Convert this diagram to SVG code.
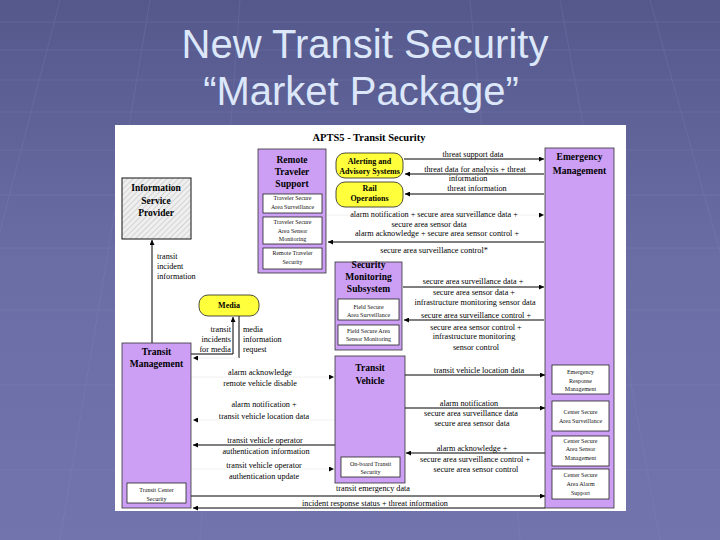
<svg xmlns="http://www.w3.org/2000/svg" width="720" height="540" viewBox="0 0 720 540">
<defs>
<linearGradient id="bg" x1="0" y1="0" x2="0" y2="1">
<stop offset="0" stop-color="#55588b"/>
<stop offset="0.5" stop-color="#6a6ea5"/>
<stop offset="1" stop-color="#7275ad"/>
</linearGradient>
<pattern id="hatch" width="4" height="4" patternUnits="userSpaceOnUse" patternTransform="rotate(45)">
<rect width="4" height="4" fill="#efefef"/>
<line x1="0" y1="0" x2="0" y2="4" stroke="#b8b8b8" stroke-width="1"/>
</pattern>
<marker id="ah" viewBox="0 0 6 6" refX="6" refY="3" markerWidth="5" markerHeight="5" markerUnits="userSpaceOnUse" orient="auto">
<path d="M0,0 L6,3 L0,6 z" fill="#000"/>
</marker>
<style>
.title{font-family:"Liberation Sans",Arial,sans-serif;font-size:40px;fill:#dce7fa;text-anchor:middle}
.node{fill:#cc9ff5;stroke:#333;stroke-width:0.8}
.sub{fill:#fff;stroke:#222;stroke-width:0.8}
.ext{fill:#ffff3c;stroke:#222;stroke-width:0.8}
.nt{font-family:"Liberation Serif","Times New Roman",serif;font-weight:bold;font-size:9.5px;fill:#000;text-anchor:middle}
.et{font-family:"Liberation Serif","Times New Roman",serif;font-weight:bold;font-size:8px;fill:#000;text-anchor:middle}
.st{font-family:"Liberation Serif","Times New Roman",serif;font-size:6px;fill:#111;text-anchor:middle}
.lb{font-family:"Liberation Serif","Times New Roman",serif;font-size:8.2px;fill:#000;text-anchor:middle}
.lbl{text-anchor:start}
.lbr{text-anchor:end}
.halo{stroke:#fff;stroke-width:3;paint-order:stroke}
.c{fill:none;stroke:#000;stroke-width:1}
.cf{fill:none;stroke:#ececec;stroke-width:0.8}
.grid{stroke:#8d91c4;stroke-width:1;opacity:0.2}
</style>
</defs>

<!-- slide background -->
<rect width="720" height="540" fill="url(#bg)"/>
<g class="grid">
<line x1="0" y1="22" x2="720" y2="22"/>
<line x1="0" y1="50" x2="720" y2="50"/>
<line x1="0" y1="80" x2="720" y2="80"/>
<line x1="0" y1="112" x2="720" y2="112"/>
<line x1="0" y1="150" x2="720" y2="150"/>
<line x1="0" y1="195" x2="720" y2="195"/>
<line x1="0" y1="248" x2="720" y2="248"/>
<line x1="0" y1="310" x2="720" y2="310"/>
<line x1="0" y1="385" x2="720" y2="385"/>
<line x1="0" y1="470" x2="720" y2="470"/>
<line x1="60" y1="0" x2="-80" y2="540"/>
<line x1="150" y1="0" x2="60" y2="540"/>
<line x1="240" y1="0" x2="200" y2="540"/>
<line x1="470" y1="0" x2="520" y2="540"/>
<line x1="560" y1="0" x2="660" y2="540"/>
<line x1="650" y1="0" x2="800" y2="540"/>
</g>

<text class="title" x="365" y="58">New Transit Security</text>
<text class="title" x="361" y="105">“Market Package”</text>

<!-- diagram image area -->
<rect x="115" y="125" width="511" height="386" fill="#fff"/>
<text x="369" y="141" font-family="Liberation Serif, Times New Roman, serif" font-weight="bold" font-size="10.5" text-anchor="middle">APTS5 - Transit Security</text>

<!-- connectors -->
<g id="connectors">
<path class="c" d="M152,343 V240" marker-end="url(#ah)"/>
<path class="c" d="M404,159 H544" marker-end="url(#ah)"/>
<path class="c" d="M544,174 H405" marker-end="url(#ah)"/>
<path class="c" d="M544,194 H405" marker-end="url(#ah)"/>
<path class="cf" d="M327,215 H544" marker-end="url(#ah)"/>
<path class="c" d="M544,242 H328" marker-end="url(#ah)"/>
<path class="c" d="M403,287 H544" marker-end="url(#ah)"/>
<path class="c" d="M544,320 H404" marker-end="url(#ah)"/>
<path class="c" d="M405,375 H545" marker-end="url(#ah)"/>
<path class="c" d="M405,408 H545" marker-end="url(#ah)"/>
<path class="c" d="M545,453 H406" marker-end="url(#ah)"/>
<path class="c" d="M191,496 H545" marker-end="url(#ah)"/>
<path class="c" d="M545,508 H193" marker-end="url(#ah)"/>
<path class="cf" d="M191,377 H334" marker-end="url(#ah)"/>
<path class="cf" d="M335,420 H193" marker-end="url(#ah)"/>
<path class="c" d="M335,445 H193" marker-end="url(#ah)"/>
<path class="cf" d="M191,469 H334" marker-end="url(#ah)"/>
<path class="c" d="M191,354 H233 V317" marker-end="url(#ah)"/>
<path class="c" d="M239,316 V358"/>
<path class="cf" d="M239,358 H193" marker-end="url(#ah)"/>

<!-- flow labels -->
<text class="lb" x="473" y="157">threat support data</text>
<text class="lb" x="475" y="171.5">threat data for analysis + threat</text>
<text class="lb" x="468" y="181">information</text>
<text class="lb" x="477" y="191">threat information</text>
<text class="lb halo" x="434" y="217">alarm notification + secure area surveillance data +</text>
<text class="lb" x="429" y="227">secure area sensor data</text>
<text class="lb" x="437" y="236">alarm acknowledge + secure area sensor control +</text>
<text class="lb" x="434" y="253">secure area surveillance control*</text>
<text class="lb" x="473" y="284">secure area surveillance data +</text>
<text class="lb" x="474" y="295">secure area sensor data +</text>
<text class="lb" x="475" y="305">infrastructure monitoring sensor data</text>
<text class="lb" x="476" y="318">secure area surveillance control +</text>
<text class="lb" x="476" y="330">secure area sensor control +</text>
<text class="lb" x="474" y="339">infrastructure monitoring</text>
<text class="lb" x="476" y="350">sensor control</text>
<text class="lb" x="479" y="373">transit vehicle location data</text>
<text class="lb" x="469" y="406">alarm notification</text>
<text class="lb" x="471" y="416">secure area surveillance data</text>
<text class="lb" x="472" y="426">secure area sensor data</text>
<text class="lb" x="472" y="451">alarm acknowledge +</text>
<text class="lb" x="475" y="462">secure area surveillance control +</text>
<text class="lb" x="476" y="472">secure area sensor control</text>
<text class="lb" x="373" y="491">transit emergency data</text>
<text class="lb" x="375" y="506">incident response status + threat information</text>
<text class="lb halo" x="260" y="375">alarm acknowledge</text>
<text class="lb halo" x="260" y="386">remote vehicle disable</text>
<text class="lb halo" x="264" y="407">alarm notification +</text>
<text class="lb halo" x="264" y="419">transit vehicle location data</text>
<text class="lb" x="265" y="443">transit vehicle operator</text>
<text class="lb" x="266" y="454">authentication information</text>
<text class="lb halo" x="264" y="468">transit vehicle operator</text>
<text class="lb halo" x="264" y="479">authentication update</text>
<text class="lb lbl" x="157" y="259">transit</text>
<text class="lb lbl" x="157" y="269">incident</text>
<text class="lb lbl" x="157" y="279">information</text>
<text class="lb lbr" x="231" y="332">transit</text>
<text class="lb lbr" x="231" y="342">incidents</text>
<text class="lb lbr" x="231" y="352">for media</text>
<text class="lb lbl" x="243" y="332">media</text>
<text class="lb lbl" x="243" y="342">information</text>
<text class="lb lbl" x="243" y="352">request</text>
</g>

<!-- nodes -->
<g id="isp">
<rect x="122" y="178" width="69" height="61" fill="url(#hatch)" stroke="#111" stroke-width="1"/>
<text class="nt" x="156" y="191">Information</text>
<text class="nt" x="156" y="204">Service</text>
<text class="nt" x="156" y="216">Provider</text>
</g>

<g id="rts">
<rect class="node" x="258" y="149" width="68" height="124"/>
<text class="nt" x="292" y="163">Remote</text>
<text class="nt" x="292" y="175">Traveler</text>
<text class="nt" x="292" y="187">Support</text>
<rect class="sub" x="263" y="194" width="59" height="19"/>
<text class="st" x="292.5" y="200">Traveler Secure</text>
<text class="st" x="292.5" y="209">Area Surveillance</text>
<rect class="sub" x="263" y="217" width="59" height="27"/>
<text class="st" x="292.5" y="224">Traveler Secure</text>
<text class="st" x="292.5" y="233">Area Sensor</text>
<text class="st" x="292.5" y="241">Monitoring</text>
<rect class="sub" x="263" y="248" width="59" height="21"/>
<text class="st" x="292.5" y="255">Remote Traveler</text>
<text class="st" x="292.5" y="264">Security</text>
</g>

<g id="alerting">
<rect class="ext" x="336" y="153" width="67" height="25" rx="9"/>
<text class="et" x="369.5" y="164">Alerting and</text>
<text class="et" x="369.5" y="174">Advisory Systems</text>
</g>

<g id="rail">
<rect class="ext" x="336" y="182" width="67" height="25" rx="9"/>
<text class="et" x="369.5" y="191">Rail</text>
<text class="et" x="369.5" y="201">Operations</text>
</g>

<g id="em">
<rect class="node" x="545" y="148" width="69" height="360"/>
<text class="nt" x="579.5" y="160">Emergency</text>
<text class="nt" x="579.5" y="174">Management</text>
<rect class="sub" x="552" y="365" width="57" height="29"/>
<text class="st" x="580.5" y="374">Emergency</text>
<text class="st" x="580.5" y="383">Response</text>
<text class="st" x="580.5" y="391">Management</text>
<rect class="sub" x="552" y="401" width="57" height="30"/>
<text class="st" x="580.5" y="414">Center Secure</text>
<text class="st" x="580.5" y="423">Area Surveillance</text>
<rect class="sub" x="552" y="436" width="57" height="30"/>
<text class="st" x="580.5" y="443">Center Secure</text>
<text class="st" x="580.5" y="451">Area Sensor</text>
<text class="st" x="580.5" y="460">Management</text>
<rect class="sub" x="552" y="469" width="57" height="30"/>
<text class="st" x="580.5" y="477">Center Secure</text>
<text class="st" x="580.5" y="486">Area Alarm</text>
<text class="st" x="580.5" y="495">Support</text>
</g>

<g id="sms">
<rect class="node" x="335" y="262" width="67" height="88"/>
<text class="nt" x="368.5" y="268">Security</text>
<text class="nt" x="368.5" y="280">Monitoring</text>
<text class="nt" x="368.5" y="292">Subsystem</text>
<rect class="sub" x="338" y="299" width="61" height="21"/>
<text class="st" x="368.5" y="309">Field Secure</text>
<text class="st" x="368.5" y="317">Area Surveillance</text>
<rect class="sub" x="338" y="325" width="61" height="20"/>
<text class="st" x="368.5" y="333">Field Secure Area</text>
<text class="st" x="368.5" y="341">Sensor Monitoring</text>
</g>

<g id="media">
<rect class="ext" x="199" y="295" width="60" height="21" rx="9"/>
<text class="et" x="229" y="308">Media</text>
</g>

<g id="tv">
<rect class="node" x="335" y="356" width="70" height="127"/>
<text class="nt" x="370" y="371">Transit</text>
<text class="nt" x="370" y="384">Vehicle</text>
<rect class="sub" x="341" y="457" width="59" height="20"/>
<text class="st" x="370.5" y="466">On-board Transit</text>
<text class="st" x="370.5" y="474">Security</text>
</g>

<g id="tm">
<rect class="node" x="122" y="343" width="69" height="165"/>
<text class="nt" x="156.5" y="355">Transit</text>
<text class="nt" x="156.5" y="367">Management</text>
<rect class="sub" x="127" y="483" width="59" height="20"/>
<text class="st" x="156.5" y="492">Transit Center</text>
<text class="st" x="156.5" y="501">Security</text>
</g>
</svg>
